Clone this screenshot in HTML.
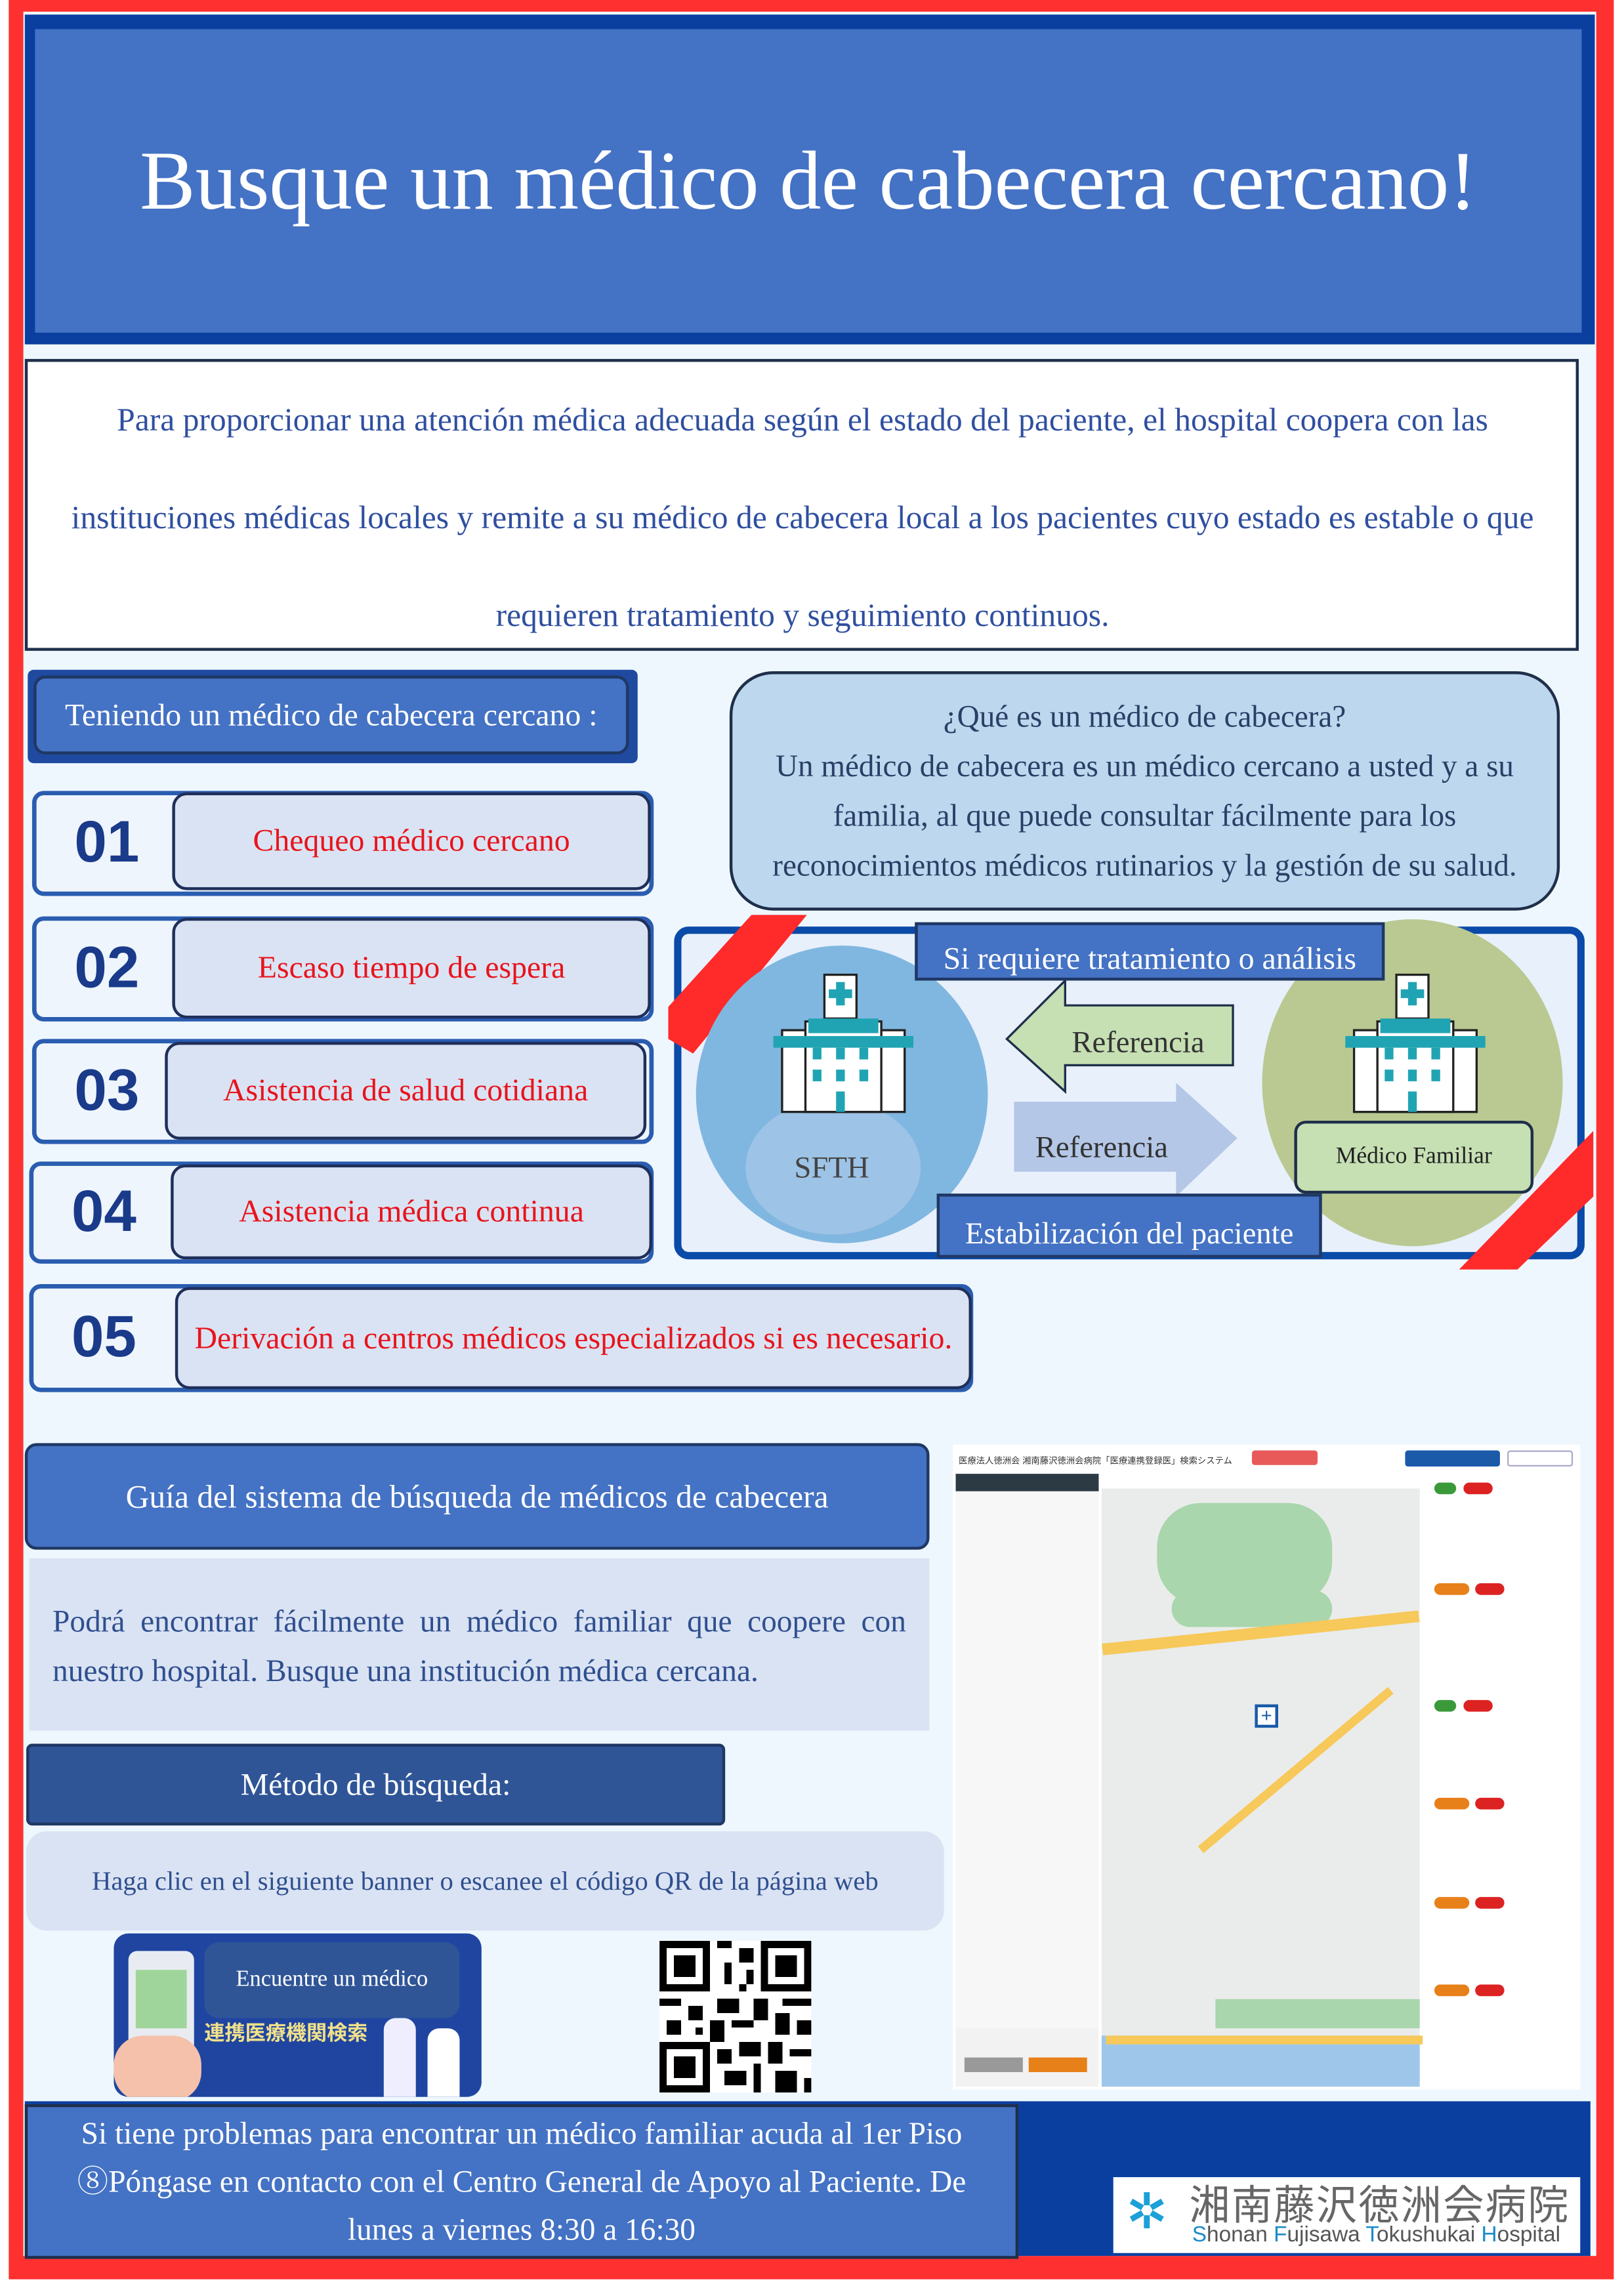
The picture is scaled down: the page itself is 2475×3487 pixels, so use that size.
<!DOCTYPE html>
<html><head><meta charset="utf-8"><style>
*{margin:0;padding:0;box-sizing:border-box}
html,body{width:2475px;height:3487px;overflow:hidden;background:#fff}
#w{position:absolute;left:0;top:0;width:1113px;height:1568px;transform:scale(2.2237,2.2239);transform-origin:0 0;font-family:"Liberation Serif","Noto Serif CJK SC",serif}
.a{position:absolute}
.c{display:flex;align-items:center;justify-content:center;text-align:center}
.num{position:absolute;border:3px solid #2a5db0;border-radius:8px;background:#eef5fc}
.num b{position:absolute;left:26px;font-family:"Liberation Sans",sans-serif;font-size:40px;color:#1a3a8a;top:50%;transform:translateY(-50%)}
.in{position:absolute;background:#dae3f3;border:2px solid #1f2f5a;border-radius:10px;color:#e8141c;font-size:21.5px;white-space:nowrap}
.lab{background:#4472c4;border:2px solid #1f3864;color:#fff}
</style></head><body><div id="w">
<div class="a" style="left:0;top:0;width:1113px;height:1568px;background:#fff"></div>
<div class="a" style="left:6px;top:0;width:1100px;height:1562px;background:#ff3030"></div>
<div class="a" style="left:16px;top:8px;width:1078px;height:1538px;background:#eef7fd"></div>
<div class="a" style="left:17px;top:10px;width:1076px;height:226px;background:#0a3fa0"></div>
<div class="a c" style="left:24px;top:20px;width:1060px;height:208px;background:#4472c4;color:#fff;font-size:57px;white-space:nowrap">Busque un médico de cabecera cercano!</div>
<div class="a" style="left:17px;top:246px;width:1065px;height:200px;background:#fff;border:2px solid #1f2f4a"></div>
<div class="a" style="left:0px;top:254px;width:1100px;text-align:center;color:#2f4f9f;font-size:22.3px;line-height:67px;white-space:nowrap">Para proporcionar una atención médica adecuada según el estado del paciente, el hospital coopera con las<br>instituciones médicas locales y remite a su médico de cabecera local a los pacientes cuyo estado es estable o que<br>requieren tratamiento y seguimiento continuos.</div>
<div class="a" style="left:19px;top:459px;width:418px;height:64px;background:#1f4aa0;border-radius:4px"></div>
<div class="a c" style="left:23px;top:463px;width:408px;height:54px;background:#4472c4;border:2px solid #1f3864;border-radius:8px;color:#fff;font-size:21.5px;white-space:nowrap">Teniendo un médico de cabecera cercano :</div>
<div class="num" style="left:22px;top:542px;width:426px;height:72px"><b>01</b></div>
<div class="in c" style="left:118px;top:543px;width:328px;height:67px">Chequeo médico cercano</div>
<div class="num" style="left:22px;top:628px;width:426px;height:72px"><b>02</b></div>
<div class="in c" style="left:118px;top:629px;width:328px;height:69px">Escaso tiempo de espera</div>
<div class="num" style="left:22px;top:712px;width:426px;height:72px"><b>03</b></div>
<div class="in c" style="left:113px;top:714px;width:330px;height:67px">Asistencia de salud cotidiana</div>
<div class="num" style="left:20px;top:796px;width:428px;height:70px"><b>04</b></div>
<div class="in c" style="left:117px;top:798px;width:330px;height:65px">Asistencia médica continua</div>
<div class="num" style="left:20px;top:880px;width:647px;height:74px"><b>05</b></div>
<div class="in c" style="left:120px;top:882px;width:546px;height:70px">Derivación a centros médicos especializados si es necesario.</div>
<div class="a c" style="left:500px;top:460px;width:569px;height:164px;background:#bdd7ee;border:2px solid #1f2f4a;border-radius:30px;color:#2a3f66;font-size:21.2px;line-height:34px;white-space:nowrap">¿Qué es un médico de cabecera?<br>Un médico de cabecera es un médico cercano a usted y a su<br>familia, al que puede consultar fácilmente para los<br>reconocimientos médicos rutinarios y la gestión de su salud.</div>
<div class="a" style="left:462px;top:635px;width:624px;height:228px;background:#e8f0fb;border:5px solid #0a4aa8;border-radius:10px"></div>
<svg class="a" style="left:440px;top:620px" width="673" height="260" viewBox="440 620 673 260">
<polygon points="515,627 553,627 475,722 458,712 458,690" fill="#ff2a2a"/>
<polygon points="1092,775 1092,820 1040,870 1000,870" fill="#ff2a2a"/>
<ellipse cx="577" cy="750" rx="100" ry="102" fill="#80b7e0"/>
<ellipse cx="571" cy="800" rx="60" ry="46" fill="#9dc3e6"/>
<ellipse cx="968" cy="742" rx="103" ry="112" fill="#b9c991"/>
<polygon points="695,755 806,755 806,742 848,780 806,820 806,803 695,803" fill="#b4c7e7"/>
<polygon points="690,712 730,672 730,689 845,689 845,730 730,730 730,748" fill="#c6e0b4" stroke="#1f2f4a" stroke-width="1.5"/>
<g id="h1">
<rect x="565" y="668" width="22" height="30" fill="#fff" stroke="#222" stroke-width="1.5"/>
<rect x="573" y="673" width="6" height="16" fill="#20a4b4"/><rect x="568" y="678" width="16" height="6" fill="#20a4b4"/>
<rect x="536" y="706" width="84" height="56" fill="#fff" stroke="#222" stroke-width="1.5"/>
<rect x="552" y="700" width="52" height="62" fill="#fff" stroke="#222" stroke-width="1.5"/>
<rect x="554" y="698" width="48" height="10" fill="#20a4b4"/><rect x="530" y="710" width="96" height="8" fill="#20a4b4"/>
<g fill="#20a4b4"><rect x="557" y="718" width="6" height="8"/><rect x="573" y="718" width="6" height="8"/><rect x="589" y="718" width="6" height="8"/><rect x="557" y="733" width="6" height="8"/><rect x="573" y="733" width="6" height="8"/><rect x="589" y="733" width="6" height="8"/><rect x="573" y="748" width="6" height="14"/></g>
</g>
<use href="#h1" transform="translate(392,0)"/>
</svg>
<div class="a c" style="left:510px;top:780px;width:120px;height:40px;color:#444;font-size:21px">SFTH</div>
<div class="a c" style="left:725px;top:698px;width:110px;height:32px;color:#333;font-size:21px">Referencia</div>
<div class="a c" style="left:700px;top:770px;width:110px;height:32px;color:#333;font-size:21px">Referencia</div>
<div class="a c" style="left:887px;top:768px;width:164px;height:50px;background:#c6e0b4;border:2px solid #1f2f4a;border-radius:8px;color:#222;font-size:16px">Médico Familiar</div>
<div class="a c lab" style="left:627px;top:632px;width:322px;height:40px;font-size:21.5px;padding-top:10px;white-space:nowrap">Si requiere tratamiento o análisis</div>
<div class="a c lab" style="left:642px;top:818px;width:264px;height:44px;font-size:21px;padding-top:10px;white-space:nowrap">Estabilización del paciente</div>
<div class="a c" style="left:17px;top:989px;width:620px;height:73px;background:#4472c4;border:2px solid #1f3864;border-radius:8px;color:#fff;font-size:22.3px;white-space:nowrap">Guía del sistema de búsqueda de médicos de cabecera</div>
<div class="a" style="left:20px;top:1068px;width:617px;height:118px;background:#dae3f3;color:#2f4f8f;font-size:21.3px;line-height:34px;padding:26px 16px 0 16px;text-align:justify;text-align-last:left">Podrá encontrar fácilmente un médico familiar que coopere con nuestro hospital. Busque una institución médica cercana.</div>
<div class="a c" style="left:18px;top:1195px;width:479px;height:56px;background:#2f5597;border:2px solid #1f3864;border-radius:4px;color:#fff;font-size:21.5px">Método de búsqueda:</div>
<div class="a c" style="left:18px;top:1255px;width:629px;height:68px;background:#dae3f3;border-radius:14px;color:#2f4f8f;font-size:18.3px;white-space:nowrap">Haga clic en el siguiente banner o escanee el código QR de la página web</div>
<div class="a" style="left:78px;top:1325px;width:252px;height:112px;background:#1f45a0;border-radius:10px;overflow:hidden">
<div class="a" style="left:10px;top:12px;width:45px;height:75px;background:#e8ecf2;border-radius:6px"></div>
<div class="a" style="left:15px;top:25px;width:35px;height:40px;background:#9fd59a"></div>
<div class="a" style="left:0;top:70px;width:60px;height:45px;background:#f5c1aa;border-radius:20px"></div>
<div class="a c" style="left:62px;top:6px;width:175px;height:52px;background:#2f5597;border-radius:10px;color:#fff;font-size:15.5px">Encuentre un médico</div>
<div class="a" style="left:62px;top:58px;font-size:14px;color:#f0e08a;font-family:'Liberation Sans','Noto Sans CJK JP',sans-serif;font-weight:bold">連携医療機関検索</div>
<div class="a" style="left:185px;top:58px;width:22px;height:54px;background:#eef;border-radius:8px 8px 0 0"></div>
<div class="a" style="left:215px;top:65px;width:22px;height:47px;background:#fff;border-radius:8px 8px 0 0"></div>
</div>
<svg class="a" style="left:452px;top:1330px" width="104" height="104" viewBox="0 0 21 21" shape-rendering="crispEdges">
<rect width="21" height="21" fill="#fff"/>
<g fill="#000"><rect x="0" y="0" width="7" height="7"/><rect x="14" y="0" width="7" height="7"/><rect x="0" y="14" width="7" height="7"/></g>
<g fill="#fff"><rect x="1" y="1" width="5" height="5"/><rect x="15" y="1" width="5" height="5"/><rect x="1" y="15" width="5" height="5"/></g>
<g fill="#000"><rect x="2" y="2" width="3" height="3"/><rect x="16" y="2" width="3" height="3"/><rect x="2" y="16" width="3" height="3"/>
<rect x="8" y="0" width="2" height="1"/><rect x="11" y="1" width="2" height="2"/><rect x="9" y="3" width="1" height="3"/><rect x="12" y="4" width="1" height="2"/>
<rect x="0" y="8" width="3" height="1"/><rect x="4" y="9" width="2" height="2"/><rect x="8" y="8" width="3" height="2"/><rect x="13" y="8" width="2" height="3"/><rect x="17" y="8" width="4" height="1"/>
<rect x="1" y="11" width="2" height="2"/><rect x="7" y="11" width="2" height="3"/><rect x="10" y="11" width="3" height="1"/><rect x="16" y="10" width="2" height="3"/><rect x="19" y="11" width="2" height="2"/>
<rect x="8" y="15" width="2" height="2"/><rect x="11" y="14" width="3" height="2"/><rect x="15" y="14" width="2" height="3"/><rect x="18" y="15" width="3" height="1"/>
<rect x="9" y="18" width="3" height="2"/><rect x="13" y="17" width="1" height="4"/><rect x="16" y="18" width="3" height="3"/><rect x="20" y="19" width="1" height="2"/><rect x="5" y="12" width="1" height="1"/><rect x="11" y="6" width="1" height="1"/>
</g></svg>
<div class="a" style="left:653px;top:990px;width:430px;height:442px;background:#fff;font-family:'Liberation Sans','Noto Sans CJK JP',sans-serif;overflow:hidden">
<div class="a" style="left:4px;top:6px;font-size:6px;color:#333">医療法人徳洲会 湘南藤沢徳洲会病院「医療連携登録医」検索システム</div>
<div class="a" style="left:205px;top:4px;width:45px;height:10px;background:#e85a5a;border-radius:2px"></div>
<div class="a" style="left:310px;top:4px;width:65px;height:11px;background:#1a5aa8;border-radius:2px"></div>
<div class="a" style="left:380px;top:4px;width:45px;height:11px;border:1px solid #aac;border-radius:2px"></div>
<div class="a" style="left:2px;top:20px;width:98px;height:12px;background:#2c3a44"></div>
<div class="a" style="left:2px;top:32px;width:98px;height:370px;background:#f7f7f7"></div>
<div class="a" style="left:2px;top:400px;width:98px;height:40px;background:#f2f2f2"></div>
<div class="a" style="left:8px;top:420px;width:40px;height:10px;background:#999"></div>
<div class="a" style="left:52px;top:420px;width:40px;height:10px;background:#e8801a"></div>
<div class="a" style="left:102px;top:30px;width:218px;height:410px;background:#eaeceb"></div>
<div class="a" style="left:140px;top:40px;width:120px;height:70px;background:#a9d6ac;border-radius:30px"></div>
<div class="a" style="left:150px;top:100px;width:110px;height:25px;background:#a9d6ac;border-radius:20px"></div>
<div class="a" style="left:102px;top:125px;width:218px;height:8px;background:#f7c85a;transform:rotate(-6deg)"></div>
<div class="a" style="left:150px;top:220px;width:170px;height:6px;background:#f7c85a;transform:rotate(-40deg)"></div>
<div class="a" style="left:180px;top:380px;width:140px;height:20px;background:#a9d6ac"></div>
<div class="a" style="left:102px;top:405px;width:218px;height:35px;background:#9ec6ea"></div>
<div class="a" style="left:105px;top:405px;width:220px;height:6px;background:#f7c85a"></div>
<div class="a" style="left:207px;top:178px;width:16px;height:16px;border:2px solid #1a5aa8;background:#fff;color:#1a5aa8;font-size:13px;line-height:11px;text-align:center">+</div>
<div class="a" style="left:322px;top:22px;width:106px;height:418px;background:#fff"></div>
<div class="a" style="left:330px;top:26px;width:15px;height:8px;background:#3a9a3a;border-radius:4px"></div>
<div class="a" style="left:350px;top:26px;width:20px;height:8px;background:#d22;border-radius:4px"></div>
<div class="a" style="left:330px;top:95px;width:24px;height:8px;background:#e8801a;border-radius:4px"></div>
<div class="a" style="left:358px;top:95px;width:20px;height:8px;background:#d22;border-radius:4px"></div>
<div class="a" style="left:330px;top:175px;width:15px;height:8px;background:#3a9a3a;border-radius:4px"></div>
<div class="a" style="left:350px;top:175px;width:20px;height:8px;background:#d22;border-radius:4px"></div>
<div class="a" style="left:330px;top:242px;width:24px;height:8px;background:#e8801a;border-radius:4px"></div>
<div class="a" style="left:358px;top:242px;width:20px;height:8px;background:#d22;border-radius:4px"></div>
<div class="a" style="left:330px;top:310px;width:24px;height:8px;background:#e8801a;border-radius:4px"></div>
<div class="a" style="left:358px;top:310px;width:20px;height:8px;background:#d22;border-radius:4px"></div>
<div class="a" style="left:330px;top:370px;width:24px;height:8px;background:#e8801a;border-radius:4px"></div>
<div class="a" style="left:358px;top:370px;width:20px;height:8px;background:#d22;border-radius:4px"></div>
</div>
<div class="a" style="left:17px;top:1440px;width:1073px;height:106px;background:#0a3fa0"></div>
<div class="a c" style="left:17px;top:1442px;width:681px;height:106px;background:#4472c4;border:2px solid #1f2f4a;color:#fff;font-size:21.3px;line-height:33px;white-space:nowrap">Si tiene problemas para encontrar un médico familiar acuda al 1er Piso<br>⑧Póngase en contacto con el Centro General de Apoyo al Paciente. De<br>lunes a viernes 8:30 a 16:30</div>
<div class="a" style="left:763px;top:1492px;width:320px;height:52px;background:#fff"></div>
<div class="a" style="left:768px;top:1496px;width:36px;height:40px;color:#1ca0d8;font-size:34px;line-height:40px;text-align:center;font-family:'Liberation Sans',sans-serif">✲</div>
<div class="a" style="left:815px;top:1490px;font-family:'Liberation Sans','Noto Sans CJK JP',sans-serif;font-size:28px;color:#666;letter-spacing:1px">湘南藤沢徳洲会病院</div>
<div class="a" style="left:817px;top:1523px;font-family:'Liberation Sans',sans-serif;font-size:15px;color:#555"><span style="color:#1a8ac8">S</span>honan <span style="color:#1a8ac8">F</span>ujisawa <span style="color:#1a8ac8">T</span>okushukai <span style="color:#1a8ac8">H</span>ospital</div>
</div></body></html>
